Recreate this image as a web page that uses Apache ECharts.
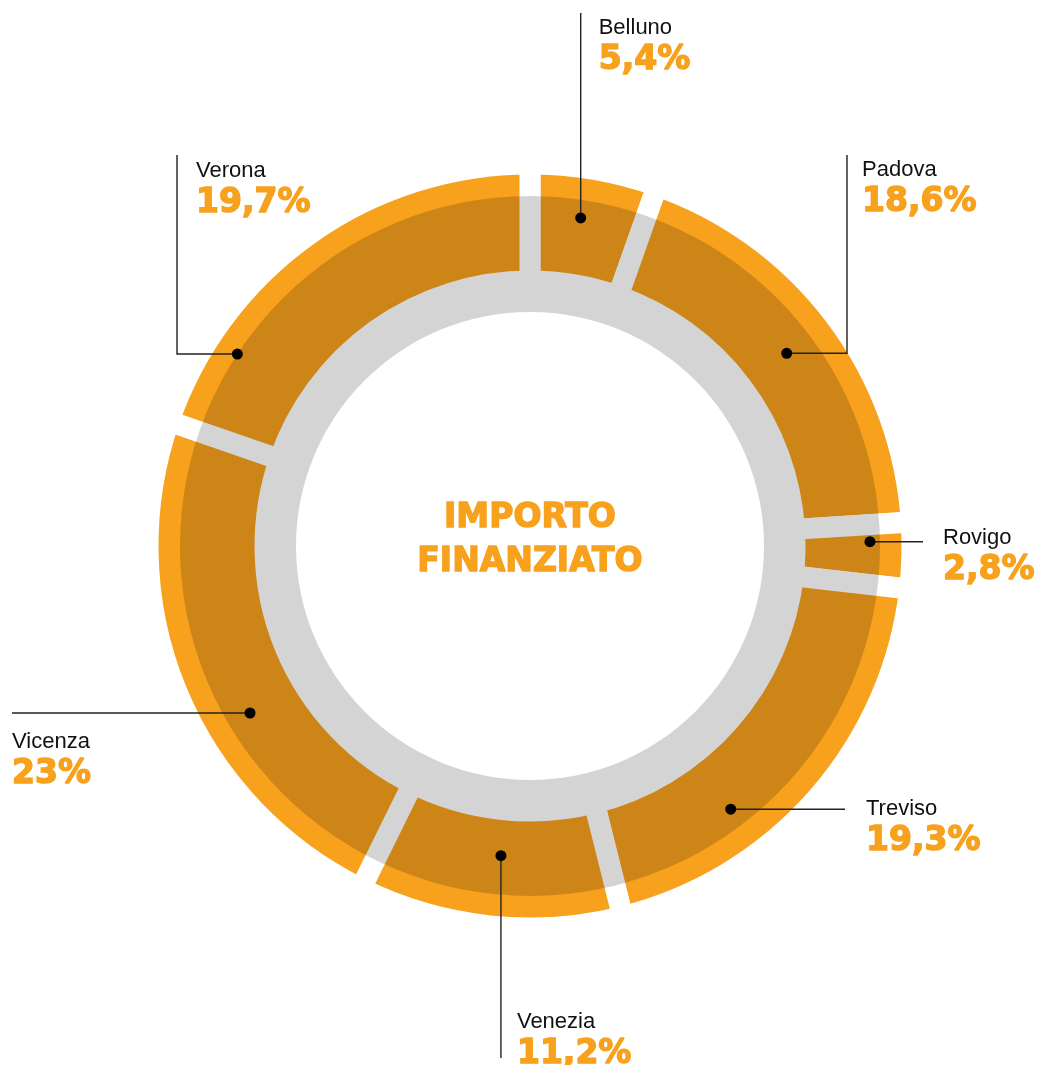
<!DOCTYPE html>
<html>
<head>
<meta charset="utf-8">
<script src="https://cdn.jsdelivr.net/npm/echarts@6/dist/echarts.min.js"></script>
<style>
  html, body { margin: 0; background: #fff; }
  #chart { width: 1041px; height: 1065px; }
</style>
</head>
<body>
<div id="chart"></div>
<script>
const regions = ['Belluno', 'Padova', 'Rovigo', 'Treviso', 'Venezia', 'Vicenza', 'Verona']
const shares = [5.4, 18.6, 2.8, 19.3, 11.2, 23, 19.7]
const shareLabels = ['5,4%', '18,6%', '2,8%', '19,3%', '11,2%', '23%', '19,7%']
const centerTitle = 'IMPORTO\nFINANZIATO'

const ORANGE = '#F7A11C'
const CENTER = [530, 546]

// callout layout: dot offset from slice middle (in %), dot radius (px),
// leader legs (run to x or y), text offset from the leader end
const dotShift = [-0.26, 0.05, -0.6, 3.18, -0.21, -2.36, -5.91]
const dotRadius = [332, 321, 340, 331, 311, 326, 350]
const leaders = [
  [['y', 13]],
  [['x', 847], ['y', 155]],
  [['x', 923]],
  [['x', 845]],
  [['y', 1058]],
  [['x', 12]],
  [['x', 177], ['y', 155]]
]
const textOffset = [[18, 0], [15, 0], [20, -18], [21, -15], [16, -51], [0, 14], [19, 1]]

const total = shares.reduce((a, b) => a + b, 0)
const mids = []
let acc = 0
shares.forEach(v => { mids.push(acc + v / 2); acc += v })

const labelRich = {
  n: { fontFamily: 'Liberation Sans', fontSize: 22, lineHeight: 29, fill: '#111' },
  v: {
    fontFamily: 'DejaVu Sans', fontWeight: 'bold', fontSize: 33, lineHeight: 36,
    fill: ORANGE, stroke: ORANGE, lineWidth: 1.4
  }
}

function renderCallout(params, api) {
  const i = params.dataIndex
  const dot = api.coord([api.value(0), api.value(1)])
  const pts = [dot]
  let p = dot
  leaders[i].forEach(([axis, v]) => {
    p = axis === 'x' ? [v, p[1]] : [p[0], v]
    pts.push(p)
  })
  return {
    type: 'group',
    children: [
      {
        type: 'polyline',
        shape: { points: pts },
        style: { stroke: '#222', lineWidth: 1.4, fill: null }
      },
      {
        type: 'circle',
        shape: { cx: dot[0], cy: dot[1], r: 5.5 },
        style: { fill: '#000' }
      },
      {
        type: 'text',
        x: p[0] + textOffset[i][0],
        y: p[1] + textOffset[i][1],
        style: {
          text: `{n|${regions[i]}}\n{v|${shareLabels[i]}}`,
          rich: labelRich,
          align: 'left',
          verticalAlign: 'top'
        }
      }
    ]
  }
}

const chart = echarts.init(document.getElementById('chart'))

chart.setOption({
  animation: false,
  backgroundColor: '#fff',
  polar: { center: CENTER, radius: 372 },
  radiusAxis: { type: 'value', min: 0, max: 372, show: false },
  angleAxis: { type: 'value', min: 0, max: total, startAngle: 90, clockwise: true, show: false },
  graphic: [
    {
      type: 'text',
      x: 530,
      y: 540,
      style: {
        text: centerTitle,
        fill: ORANGE,
        stroke: ORANGE,
        lineWidth: 1.4,
        fontFamily: 'DejaVu Sans',
        fontWeight: 'bold',
        fontSize: 33,
        lineHeight: 44,
        align: 'center',
        verticalAlign: 'middle'
      }
    }
  ],
  series: [
    {
      type: 'pie',
      center: CENTER,
      radius: [265, 382],
      startAngle: 90,
      clockwise: true,
      silent: true,
      z: 2,
      itemStyle: { color: ORANGE, borderColor: '#fff', borderWidth: 21 },
      label: { show: false },
      labelLine: { show: false },
      data: regions.map((name, i) => ({ name, value: shares[i] }))
    },
    {
      // grey ring, darkening the orange under it
      type: 'pie',
      center: CENTER,
      radius: [234, 350],
      silent: true,
      z: 3,
      label: { show: false },
      labelLine: { show: false },
      itemStyle: { color: 'rgba(0,0,0,0.17)' },
      data: [{ name: 'ring', value: 1 }]
    },
    {
      type: 'custom',
      coordinateSystem: 'polar',
      silent: true,
      z: 10,
      renderItem: renderCallout,
      data: mids.map((m, i) => [dotRadius[i], m + dotShift[i]])
    }
  ]
})
</script>
</body>
</html>
